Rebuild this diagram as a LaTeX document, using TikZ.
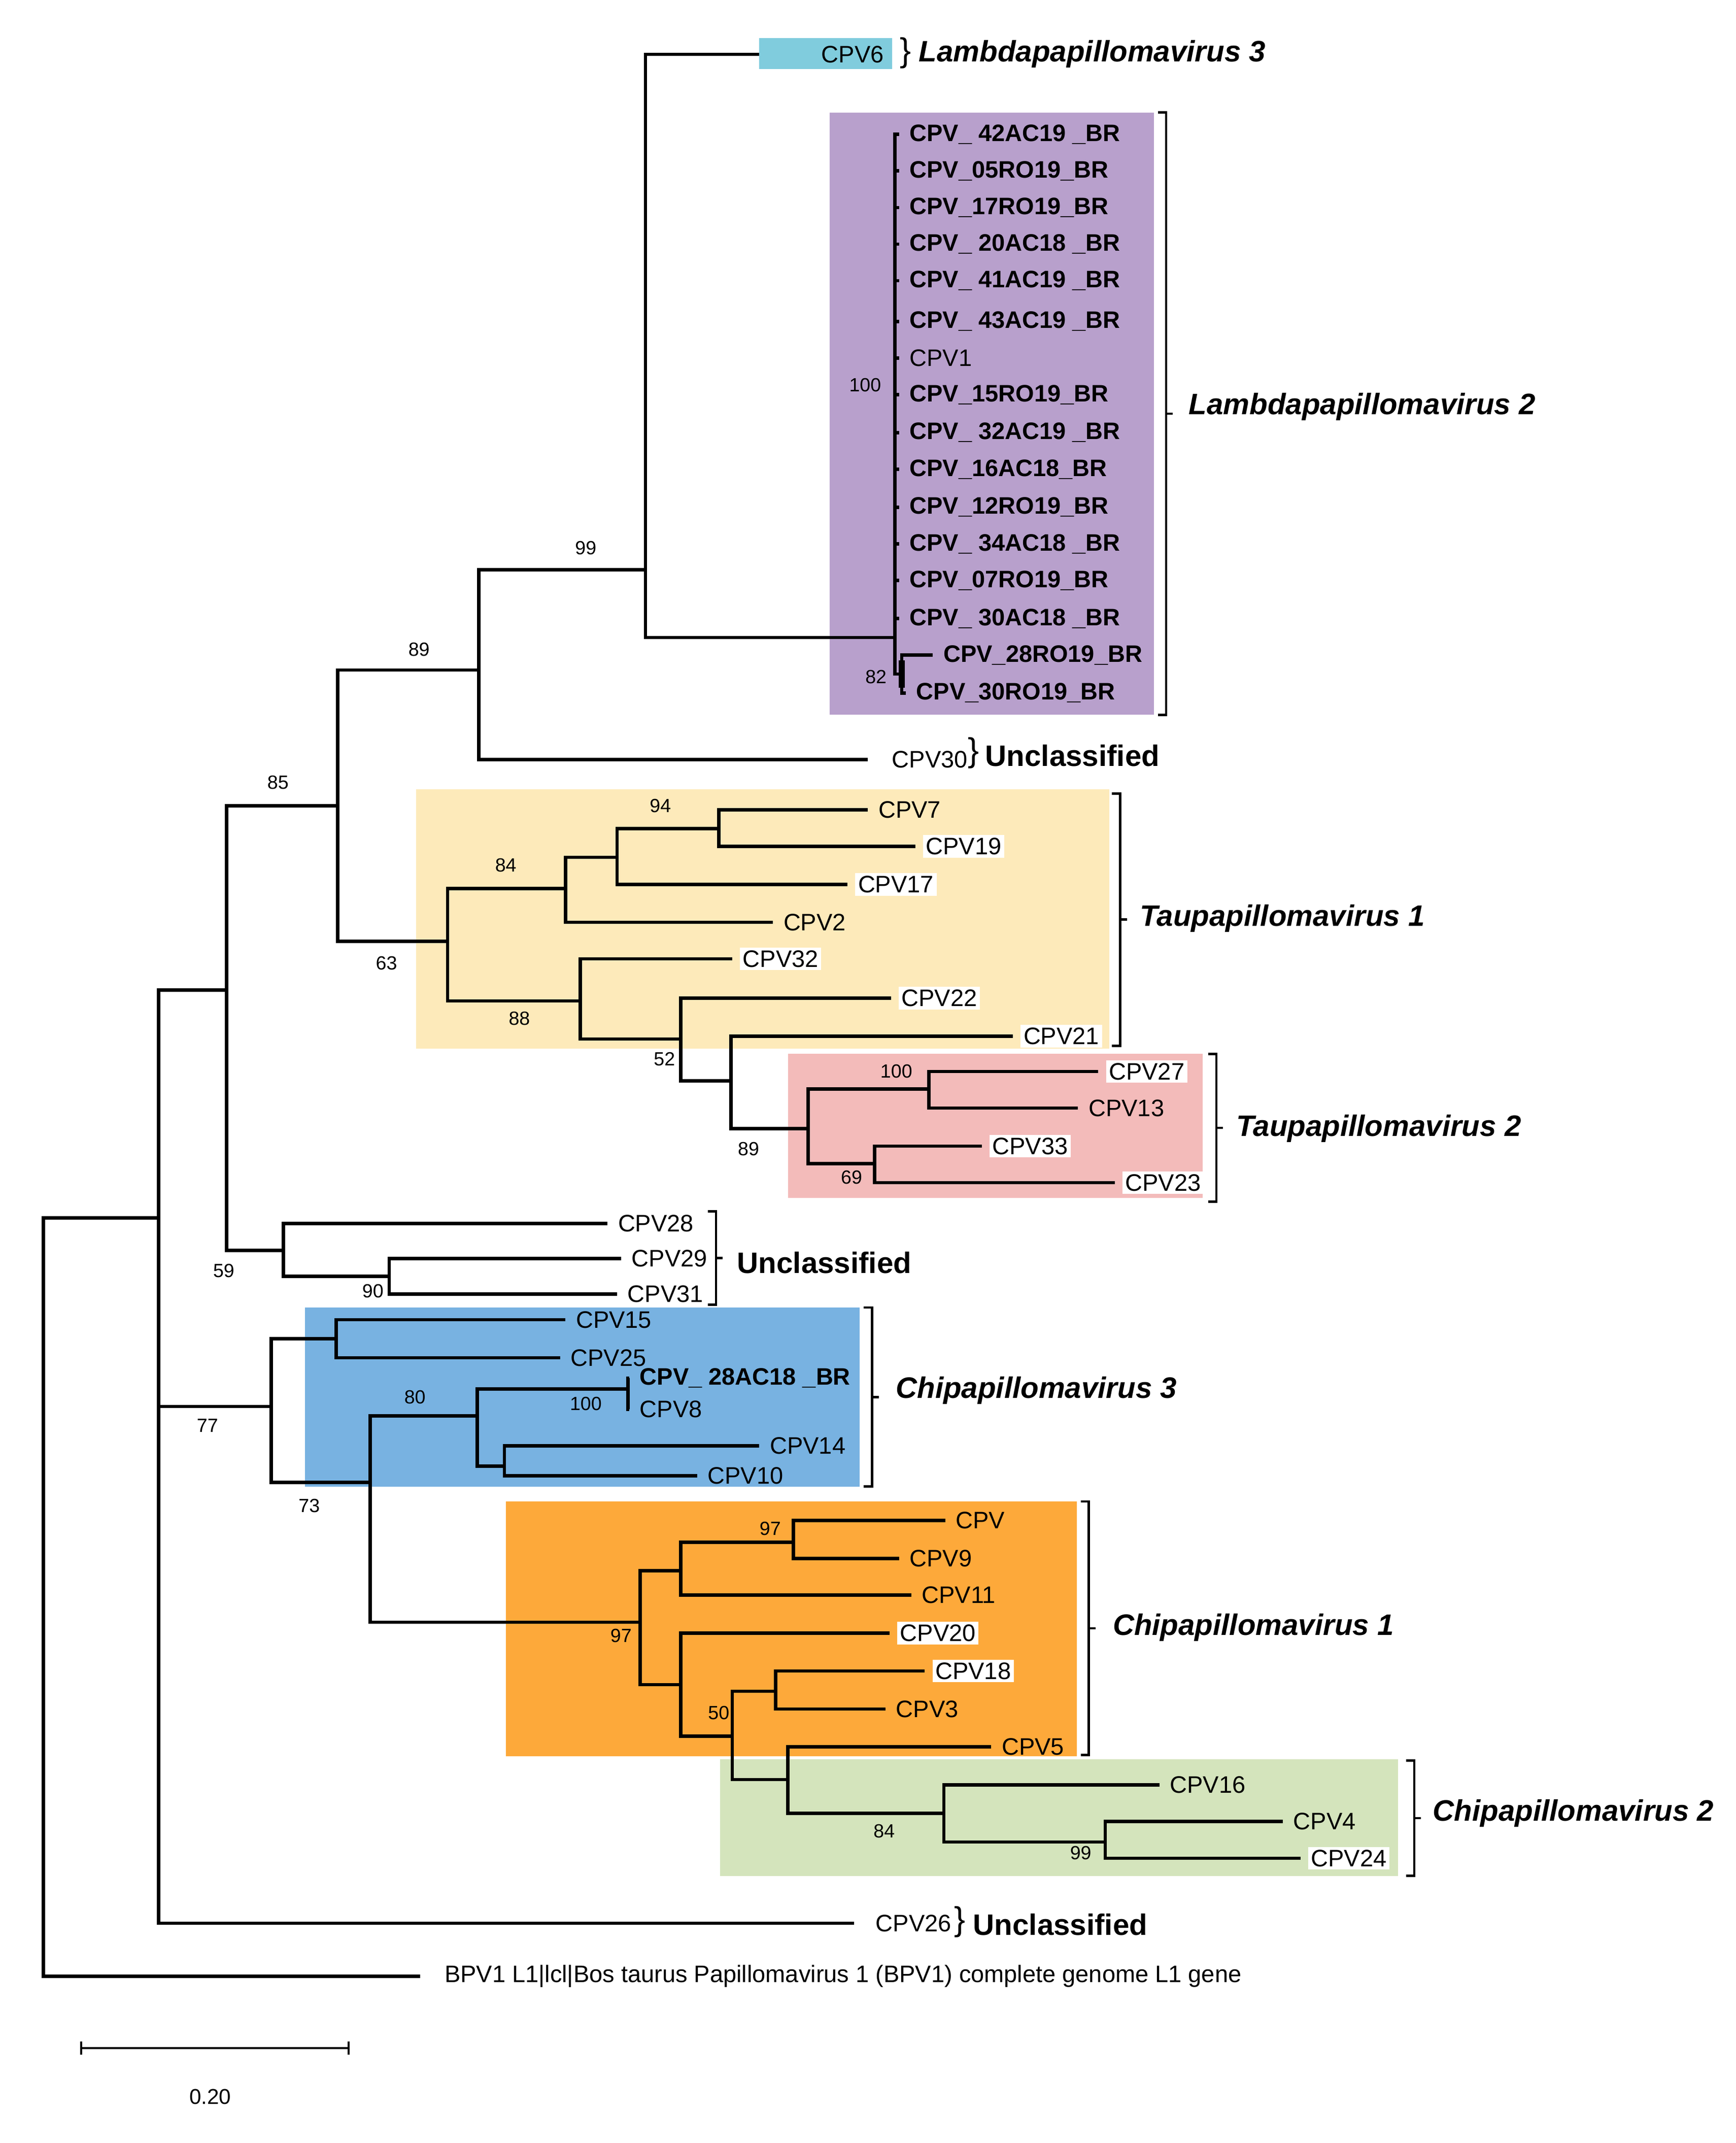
\documentclass[tikz,border=0pt]{standalone}
\usepackage{fontspec}
\setmainfont{Liberation Sans}
\definecolor{cyanbox}{RGB}{128,204,221}
\definecolor{purplebox}{RGB}{184,160,204}
\definecolor{yellowbox}{RGB}{253,234,186}
\definecolor{pinkbox}{RGB}{243,187,186}
\definecolor{bluebox}{RGB}{120,178,225}
\definecolor{orangebox}{RGB}{253,169,58}
\definecolor{greenbox}{RGB}{212,228,188}
\tikzset{
  br/.style={line width=0.7pt},
  lab/.style={anchor=west,inner sep=0.6pt,font=\fontsize{5}{6}\selectfont},
  wlab/.style={lab,fill=white},
  blab/.style={lab,font=\fontsize{5}{6}\selectfont\bfseries},
  boot/.style={inner sep=0pt,font=\fontsize{4}{5}\selectfont},
  grp/.style={anchor=west,inner sep=0pt,font=\fontsize{6.2}{8}\selectfont\bfseries\itshape},
  ugrp/.style={anchor=west,inner sep=0pt,font=\fontsize{6.2}{8}\selectfont\bfseries},
}
% elbow branch from parent to child
\newcommand\brch[2]{\draw[br] (#1) |- (#2);}
% leaf: name, parent, position, text, style
\newcommand\leaf[5]{\coordinate (#1) at (#3); \brch{#2}{#1}
  \node[#5] (#1l) at ([xshift=0.05cm]#1) {#4};}
% bracket: x, top, bottom
\newcommand\cladebrack[3]{\draw[line width=0.5pt] (#1-6,#2) -- (#1,#2) -- (#1,#3) -- (#1-6,#3)
  (#1,{(#2+#3)/2}) -- (#1+5,{(#2+#3)/2});}
\begin{document}
\begin{tikzpicture}[x=0.01cm,y=-0.01cm]
  \useasboundingbox (0,0) rectangle (1280,1580);

  % clade boxes
  \fill[cyanbox] (560,28) rectangle (658,51);
  \fill[purplebox] (612,83) rectangle (851,527);
  \fill[yellowbox] (307,582) rectangle (818,773);
  \fill[pinkbox] (581,777) rectangle (887,883);
  \fill[bluebox] (225,964) rectangle (634,1096);
  \fill[orangebox] (373,1107) rectangle (794,1295);
  \fill[greenbox] (531,1297) rectangle (1031,1383);

  % internal nodes
  \coordinate (r) at (32,1100);
  \coordinate (a) at (117,898);
  \coordinate (b) at (167,730);
  \coordinate (c) at (200,1037);
  \coordinate (d) at (249,594);
  \coordinate (e) at (209,922);
  \coordinate (f) at (353,494);
  \coordinate (g) at (330,694);
  \coordinate (h) at (476,420);
  \coordinate (i) at (660,470);
  \coordinate (j) at (665,497);
  \coordinate (k) at (417,655);
  \coordinate (m) at (428,738);
  \coordinate (n) at (455,632);
  \coordinate (o) at (530,611);
  \coordinate (p) at (502,766);
  \coordinate (q) at (539,797);
  \coordinate (s) at (596,832);
  \coordinate (t) at (685,803);
  \coordinate (u) at (645,858);
  \coordinate (v) at (287,941);
  \coordinate (w) at (248,987);
  \coordinate (x) at (273,1093);
  \coordinate (y1) at (352,1044);
  \coordinate (y2) at (463,1024);
  \coordinate (y3) at (372,1081);
  \coordinate (z) at (472,1196);
  \coordinate (z1) at (502,1158);
  \coordinate (z2) at (502,1242);
  \coordinate (z3) at (585,1137);
  \coordinate (z4) at (540,1280);
  \coordinate (z5) at (572,1247);
  \coordinate (z6) at (581,1312);
  \coordinate (z7) at (696,1337);
  \coordinate (z8) at (815,1358);

  \brch{r}{a} \brch{a}{b} \brch{a}{c} \brch{b}{d} \brch{b}{e}
  \brch{d}{f} \brch{d}{g} \brch{f}{h} \brch{h}{i} \brch{i}{j}
  \brch{g}{k} \brch{g}{m} \brch{k}{n} \brch{n}{o} \brch{m}{p}
  \brch{p}{q} \brch{q}{s} \brch{s}{t} \brch{s}{u} \brch{e}{v}
  \brch{c}{w} \brch{c}{x} \brch{x}{y1} \brch{y1}{y2} \brch{y1}{y3}
  \brch{x}{z} \brch{z}{z1} \brch{z}{z2} \brch{z1}{z3} \brch{z2}{z4}
  \brch{z4}{z5} \brch{z4}{z6} \brch{z6}{z7} \brch{z7}{z8}

  % leaves
  \leaf{bpv}{r}{310,1457}{BPV1 L1|lcl|Bos taurus Papillomavirus 1 (BPV1) complete genome L1 gene}{lab,xshift=0.1cm}
  \leaf{cpv26}{a}{630,1418}{CPV26}{lab,xshift=0.08cm}
  \leaf{cpv30}{f}{640,560}{CPV30}{lab,xshift=0.1cm}
  \leaf{cpv6}{h}{560,40}{CPV6}{lab,xshift=0.38cm}
  \foreach \nm/\yy/\tx [count=\ii] in {
      42AC19/99/CPV\_ 42AC19 \_BR, 05RO19/126/CPV\_05RO19\_BR,
      17RO19/153/CPV\_17RO19\_BR, 20AC18/180/CPV\_ 20AC18 \_BR,
      41AC19/207/CPV\_ 41AC19 \_BR, 43AC19/237/CPV\_ 43AC19 \_BR,
      15RO19/291/CPV\_15RO19\_BR, 32AC19/319/CPV\_ 32AC19 \_BR,
      16AC18/346/CPV\_16AC18\_BR, 12RO19/374/CPV\_12RO19\_BR,
      34AC18/401/CPV\_ 34AC18 \_BR, 07RO19/428/CPV\_07RO19\_BR,
      30AC18/456/CPV\_ 30AC18 \_BR}
    {\leaf{br\nm}{i}{663,\yy}{\tx}{blab}}
  \leaf{cpv1}{i}{663,264}{CPV1}{lab}
  \leaf{br28RO19}{j}{688,483}{CPV\_28RO19\_BR}{blab}
  \leaf{br30RO19}{j}{668,511}{CPV\_30RO19\_BR}{blab}
  \leaf{cpv2}{k}{570,680}{CPV2}{lab}
  \leaf{cpv17}{n}{625,652}{CPV17}{wlab}
  \leaf{cpv7}{o}{640,597}{CPV7}{lab}
  \leaf{cpv19}{o}{675,624}{CPV19}{wlab}
  \leaf{cpv32}{m}{540,707}{CPV32}{wlab}
  \leaf{cpv22}{p}{657,736}{CPV22}{wlab}
  \leaf{cpv21}{q}{747,764}{CPV21}{wlab}
  \leaf{cpv27}{t}{810,790}{CPV27}{wlab}
  \leaf{cpv13}{t}{795,817}{CPV13}{lab}
  \leaf{cpv33}{u}{724,845}{CPV33}{wlab}
  \leaf{cpv23}{u}{822,872}{CPV23}{wlab}
  \leaf{cpv28}{e}{448,902}{CPV28}{lab}
  \leaf{cpv29}{v}{458,928}{CPV29}{lab}
  \leaf{cpv31}{v}{455,954}{CPV31}{lab}
  \leaf{cpv15}{w}{417,973}{CPV15}{lab}
  \leaf{cpv25}{w}{413,1001}{CPV25}{lab}
  \leaf{br28AC18}{y2}{464,1016}{CPV\_ 28AC18 \_BR}{blab}
  \leaf{cpv8}{y2}{464,1039}{CPV8}{lab}
  \leaf{cpv14}{y3}{560,1066}{CPV14}{lab}
  \leaf{cpv10}{y3}{514,1088}{CPV10}{lab}
  \leaf{cpv}{z3}{697,1121}{CPV}{lab}
  \leaf{cpv9}{z3}{663,1149}{CPV9}{lab}
  \leaf{cpv11}{z1}{672,1176}{CPV11}{lab}
  \leaf{cpv20}{z2}{656,1204}{CPV20}{wlab}
  \leaf{cpv18}{z5}{682,1232}{CPV18}{wlab}
  \leaf{cpv3}{z5}{653,1260}{CPV3}{lab}
  \leaf{cpv5}{z6}{731,1288}{CPV5}{lab}
  \leaf{cpv16}{z7}{855,1316}{CPV16}{lab}
  \leaf{cpv4}{z8}{946,1343}{CPV4}{lab}
  \leaf{cpv24}{z8}{959,1370}{CPV24}{wlab}
  \draw[line width=1.2pt] (j) ++(0,-10) -- ++(0,20);

  % bootstrap values
  \foreach \bv/\bx/\by [count=\bi] in {99/432/404, 89/309/479, 85/205/577,
      63/285/710, 84/373/638, 94/487/594, 88/383/751, 52/490/781,
      89/552/847, 100/661/790, 69/628/868, 59/165/937, 90/275/952,
      77/153/1051, 73/228/1110, 80/306/1030, 100/432/1035, 97/568/1127,
      97/458/1206, 50/530/1263, 84/652/1350, 99/797/1366, 100/638/284,
      82/646/499}
    {\node[boot] (bs\bi) at (\bx,\by) {\bv};}

  % group labels
  \node[ugrp] (lam3b) at (663,39) {\fontsize{7}{8}\selectfont\mdseries\}};
  \node[grp] (lam3) at (677,40) {Lambdapapillomavirus 3};
  \cladebrack{860}{83}{527}
  \node[grp] (lam2) at (876,300) {Lambdapapillomavirus 2};
  \node[ugrp] (unc1b) at (713,555) {\fontsize{7}{8}\selectfont\mdseries\}};
  \node[ugrp] (unc1) at (726,557) {Unclassified};
  \cladebrack{826}{585}{771}
  \node[grp] (tau1) at (840,677) {Taupapillomavirus 1};
  \cladebrack{897}{777}{886}
  \node[grp] (tau2) at (911,832) {Taupapillomavirus 2};
  \cladebrack{528}{893}{962}
  \node[ugrp] (unc2) at (543,931) {Unclassified};
  \cladebrack{643}{964}{1096}
  \node[grp] (chi3) at (660,1025) {Chipapillomavirus 3};
  \cladebrack{803}{1107}{1294}
  \node[grp] (chi1) at (820,1200) {Chipapillomavirus 1};
  \cladebrack{1043}{1298}{1383}
  \node[grp] (chi2) at (1056,1337) {Chipapillomavirus 2};
  \node[ugrp] (unc3b) at (703,1417) {\fontsize{7}{8}\selectfont\mdseries\}};
  \node[ugrp] (unc3) at (717,1419) {Unclassified};

  % scale bar
  \coordinate (sb1) at (60,1510);
  \coordinate (sb2) at (257,1510);
  \draw[line width=0.4pt] (sb1) -- (sb2) (sb1) ++(0,-5) -- ++(0,10) (sb2) ++(0,-5) -- ++(0,10);
  \node[boot,font=\fontsize{4.5}{5}\selectfont] (sbl) at (155,1546) {0.20};
\end{tikzpicture}
\end{document}
